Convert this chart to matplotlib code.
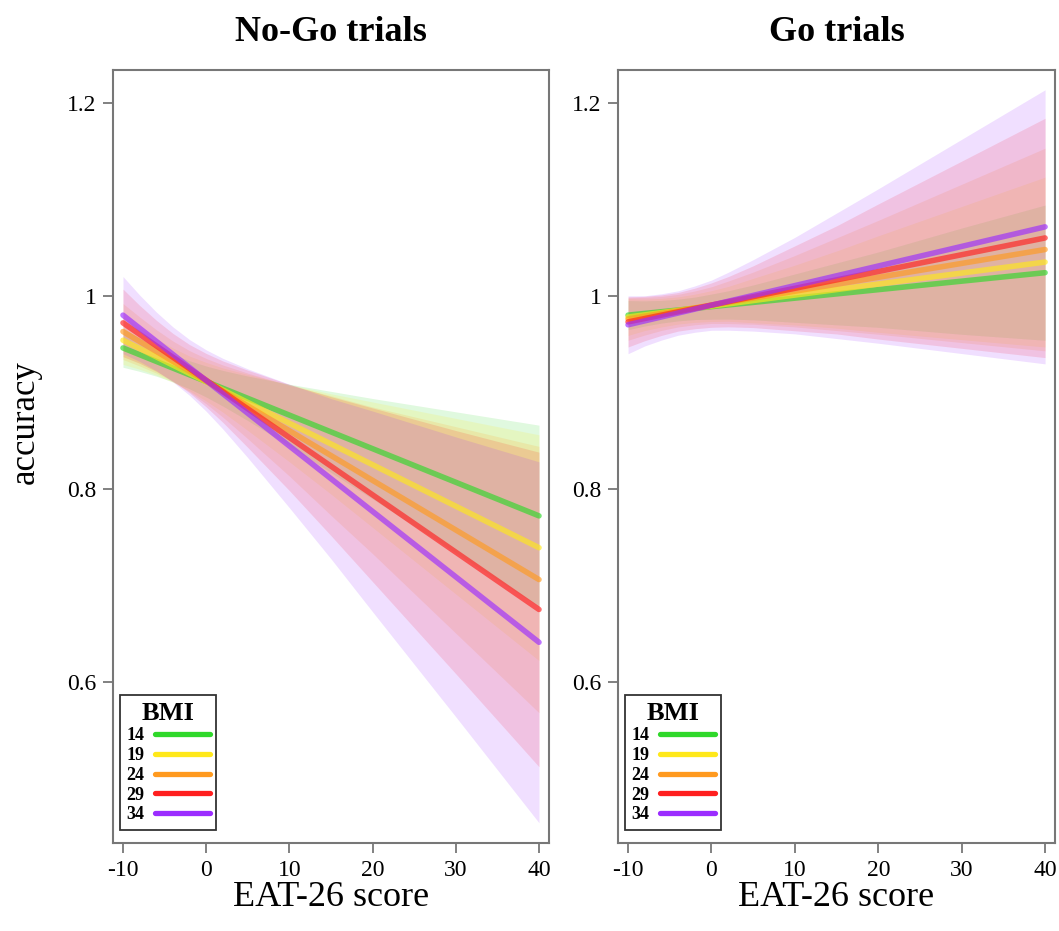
import matplotlib
matplotlib.use("Agg")
import matplotlib.pyplot as plt
import numpy as np

plt.rcParams["font.family"] = ["Liberation Serif", "DejaVu Serif"]

# BMI levels and their colours
bmi_levels = ["14", "19", "24", "29", "34"]
colours = ["#2fd82a", "#ffe81a", "#ff9a1f", "#ff1f1f", "#9b2cff"]

# EAT-26 positions where the confidence half-widths were read
eat_x = [-10, -8, -6, -4, -2, 0, 2, 5, 10, 15, 20, 30, 40]

# fitted accuracy at EAT-26 = -10 and 40, one value per BMI level
nogo_start = [0.946, 0.954, 0.963, 0.972, 0.980]
nogo_end = [0.772, 0.739, 0.706, 0.675, 0.641]
go_start = [0.980, 0.978, 0.976, 0.973, 0.970]
go_end = [1.024, 1.035, 1.048, 1.060, 1.0715]

# confidence band half-widths at eat_x
nogo_hw = [
    [0.020, 0.0173, 0.0153, 0.0143, 0.0145, 0.016, 0.0184, 0.023, 0.032, 0.042, 0.052, 0.073, 0.094],
    [0.025, 0.0215, 0.019, 0.0178, 0.018, 0.020, 0.0229, 0.029, 0.040, 0.052, 0.065, 0.091, 0.117],
    [0.029, 0.0254, 0.0225, 0.021, 0.0213, 0.0235, 0.027, 0.034, 0.047, 0.062, 0.076, 0.107, 0.138],
    [0.035, 0.030, 0.0265, 0.0247, 0.025, 0.0277, 0.0318, 0.040, 0.055, 0.072, 0.090, 0.126, 0.163],
    [0.040, 0.0344, 0.0304, 0.0285, 0.0289, 0.0318, 0.0366, 0.046, 0.064, 0.083, 0.104, 0.145, 0.187],
]
go_hw = [
    [0.015, 0.013, 0.0117, 0.0112, 0.0116, 0.013, 0.0146, 0.018, 0.025, 0.032, 0.039, 0.055, 0.070],
    [0.019, 0.0163, 0.0148, 0.0141, 0.0146, 0.016, 0.018, 0.023, 0.031, 0.040, 0.050, 0.069, 0.088],
    [0.022, 0.0195, 0.0176, 0.0169, 0.0175, 0.019, 0.022, 0.027, 0.037, 0.048, 0.059, 0.082, 0.105],
    [0.026, 0.023, 0.021, 0.020, 0.021, 0.023, 0.026, 0.032, 0.044, 0.056, 0.070, 0.097, 0.124],
    [0.030, 0.026, 0.024, 0.023, 0.024, 0.026, 0.030, 0.037, 0.050, 0.065, 0.080, 0.111, 0.142],
]

x_ticks = [-10, 0, 10, 20, 30, 40]
y_ticks = [0.6, 0.8, 1.0, 1.2]
y_tick_labels = ["0.6", "0.8", "1", "1.2"]


def panel(ax, title, starts, ends, hws):
    xs = np.array(eat_x, dtype=float)
    x0, x1 = eat_x[0], eat_x[-1]
    for i in range(len(bmi_levels)):
        fit = np.interp(xs, [x0, x1], [starts[i], ends[i]])
        hw = np.array(hws[i])
        ax.fill_between(xs, fit - hw, fit + hw, color=colours[i],
                        alpha=0.15, linewidth=0)
    for i in range(len(bmi_levels)):
        ax.plot([x0, x1], [starts[i], ends[i]],
                color=colours[i], lw=4.0, alpha=0.65,
                solid_capstyle="round", label=bmi_levels[i])

    ax.set_xlim(-11.2, 41.2)
    ax.set_ylim(0.433, 1.234)
    ax.set_xticks(x_ticks)
    ax.set_xticklabels([str(t) for t in x_ticks])
    ax.set_yticks(y_ticks)
    ax.set_yticklabels(y_tick_labels)
    ax.tick_params(direction="out", length=7, width=1.3, color="#777777",
                   labelsize=17, pad=5)
    for s in ax.spines.values():
        s.set_color("#777777")
        s.set_linewidth(1.5)
    ax.set_xlabel("EAT-26 score", fontsize=26, labelpad=0)
    ax.set_title(title, fontsize=26, fontweight="bold", pad=21)

    leg = ax.legend(loc="lower left", title="BMI", markerfirst=False,
                    frameon=True, fancybox=False, handlelength=3.0,
                    handletextpad=0.6, borderpad=0.35, labelspacing=0.15,
                    borderaxespad=0.4, bbox_to_anchor=(0.0, 0.008),
                    prop={"weight": "bold", "size": 13},
                    title_fontproperties={"weight": "bold", "size": 19})
    leg.get_frame().set_edgecolor("black")
    leg.get_frame().set_linewidth(1.3)
    for h in leg.legend_handles:
        h.set_alpha(1.0)
        h.set_linewidth(3.8)


fig = plt.figure(figsize=(10.59, 9.31), dpi=100)
ax1 = fig.add_axes([0.1067, 0.0945, 0.4117, 0.8303])
ax2 = fig.add_axes([0.5836, 0.0945, 0.4127, 0.8303])

panel(ax1, "No-Go trials", nogo_start, nogo_end, nogo_hw)
panel(ax2, "Go trials", go_start, go_end, go_hw)

fig.text(0.024, 1 - 422 / 931, "accuracy", rotation=90, fontsize=25,
         ha="center", va="center")

fig.savefig("out.png", dpi=100)
